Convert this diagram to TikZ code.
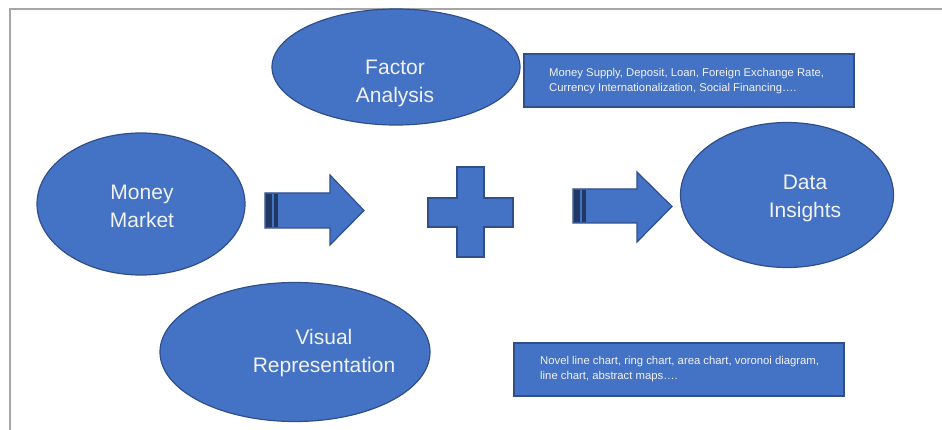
\documentclass[tikz,border=0pt]{standalone}
\usepackage{fontspec}
\setmainfont{Liberation Sans}
\usetikzlibrary{shapes.geometric}
\definecolor{ofblue}{HTML}{4472C4}
\definecolor{ofdark}{HTML}{2F4F8A}
\definecolor{stripe}{HTML}{1F3864}
\definecolor{txtw}{HTML}{F2F2F2}
\definecolor{framegray}{HTML}{A6A6A6}
\begin{document}
\begin{tikzpicture}[x=1pt,y=-1pt,
  bubble/.style={ellipse,draw=ofdark,fill=ofblue,line width=1.2pt,inner sep=0pt},
  bigtxt/.style={text=txtw,align=center,font=\fontsize{21}{28}\selectfont,inner sep=0pt},
  infobox/.style={draw=ofdark,fill=ofblue,line width=1.6pt,inner sep=0pt,anchor=north west},
  smalltxt/.style={text=txtw,align=left,font=\fontsize{11.3}{15.5}\selectfont,inner sep=0pt,anchor=west},
  blockshape/.style={draw=ofdark,fill=ofblue,line width=1.2pt,line join=miter},
  stripefill/.style={fill=stripe}]
\useasboundingbox (0,0) rectangle (942,430);
% frame
\draw[framegray,line width=1.5pt] (10,430) -- (10,9) -- (942,9);
% ellipses
\node[bubble,minimum width=248pt,minimum height=116pt] (fa) at (396,67) {};
\node[bigtxt] (fat) at (395,83) {Factor\\Analysis};
\node[bubble,minimum width=208pt,minimum height=142pt] (mm) at (141,204) {};
\node[bigtxt] (mmt) at (142,206.5) {Money\\Market};
\node[bubble,minimum width=213pt,minimum height=145pt] (di) at (787,195) {};
\node[bigtxt] (dit) at (805,198) {Data\\Insights};
\node[bubble,minimum width=270pt,minimum height=139pt] (vr) at (295,352) {};
\node[bigtxt] (vrt) at (324,353.5) {Visual\\Representation};
% boxes
\node[infobox,minimum width=330pt,minimum height=53pt] (fb) at (523,53) {};
\node[smalltxt] (fbt) at (549,81) {Money Supply, Deposit, Loan, Foreign Exchange Rate,\\Currency Internationalization, Social Financing\dots.};
\node[infobox,minimum width=330pt,minimum height=53pt] (vb) at (513,342) {};
\node[smalltxt] (vbt) at (540,369) {Novel line chart, ring chart, area chart, voronoi diagram,\\line chart, abstract maps\dots.};
% arrow 1
\draw[blockshape] (265,193) -- (330,193) -- (330,175) -- (364,210.5) -- (330,245) -- (330,228) -- (265,228) -- cycle;
\fill[stripefill] (266,194) rectangle (272,227);
\fill[stripefill] (274,194) rectangle (277.5,227);
% arrow 2
\draw[blockshape] (573,189) -- (637,189) -- (637,172) -- (672,206.5) -- (637,242) -- (637,223) -- (573,223) -- cycle;
\fill[stripefill] (574,190) rectangle (580,222);
\fill[stripefill] (582,190) rectangle (585.5,222);
% plus
\draw[blockshape] (457,167) -- (484,167) -- (484,198) -- (513,198) -- (513,227) -- (484,227) -- (484,257) -- (457,257) -- (457,227) -- (428,227) -- (428,198) -- (457,198) -- cycle;
\end{tikzpicture}
\end{document}
